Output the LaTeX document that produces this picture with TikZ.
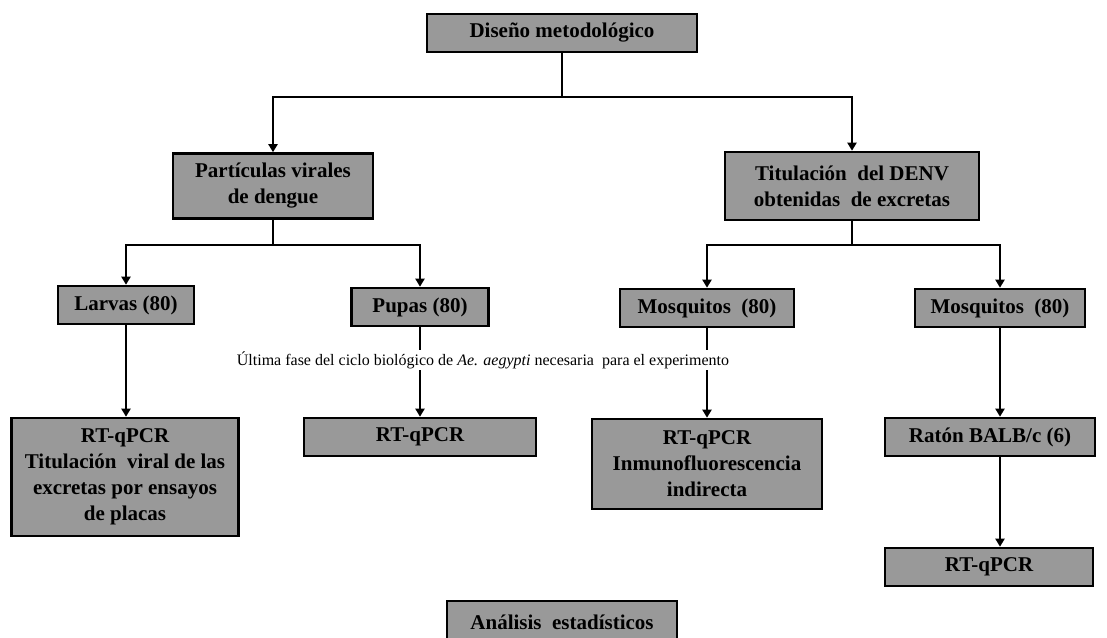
\documentclass[tikz,border=0pt]{standalone}
\usepackage{fontspec}
\setmainfont{Liberation Serif}
\usetikzlibrary{arrows.meta,positioning}
\definecolor{boxgray}{HTML}{999999}

\tikzset{
  stage/.style={draw=black,line width=2.6pt,fill=boxgray,align=center,inner sep=2pt,
    minimum height=38,font=\fontsize{21}{26}\selectfont\bfseries},
  link/.style={line width=2pt},
  arr/.style={line width=2pt,-{Triangle[length=8pt,width=9pt]}},
  note/.style={fill=white,inner sep=1pt,font=\fontsize{16}{19}\selectfont},
}

\begin{document}
\begin{tikzpicture}[x=1pt,y=-1pt]
  \useasboundingbox (0,0) rectangle (1107,637);
  % boxes
  \node[stage,minimum width=270] (dis) at (562,33) {Diseño metodológico};
  \node[stage,minimum width=200,minimum height=65] (par) at (273,186) {Partículas virales\\de dengue};
  \node[stage,minimum width=254,minimum height=68] (tit) at (852,186) {Titulación\ \ del DENV\\obtenidas\ \ de excretas};
  \node[stage,minimum width=136] (lar) at (126,305) {Larvas (80)};
  \node[stage,minimum width=137] (pup) at (420,307) {Pupas (80)};
  \node[stage,minimum width=174] (mos1) at (707,308) {Mosquitos\ \ (80)};
  \node[stage,minimum width=170] (mos2) at (1000,308) {Mosquitos\ \ (80)};
  \node[stage,minimum width=227,minimum height=118] (rt1) at (125,477) {RT-qPCR\\Titulación\ \ viral de las\\excretas por ensayos\\de placas};
  \node[stage,minimum width=232] (rt2) at (420,437) {RT-qPCR};
  \node[stage,minimum width=230,minimum height=90] (rt3) at (707,464) {RT-qPCR\\Inmunofluorescencia\\indirecta};
  \node[stage,minimum width=210] (rat) at (990,437) {Ratón BALB/c (6)};
  \node[stage,minimum width=208] (rt4) at (989,567) {RT-qPCR};
  \node[stage,minimum width=230,minimum height=42] (ana) at (562,622) {Análisis\ \ estadísticos};
  % connectors
  \coordinate (j0) at (562,97);
  \coordinate (j1) at (273,245);
  \coordinate (j2) at (852,245);
  \draw[link] (dis.south) -- (j0);
  \draw[arr] (j0) -| (par.north);
  \draw[arr] (j0) -| (tit.north);
  \draw[link] (par.south) -- (j1);
  \draw[arr] (j1) -| (lar.north);
  \draw[arr] (j1) -| (pup.north);
  \draw[link] (tit.south) -- (j2);
  \draw[arr] (j2) -| (mos1.north);
  \draw[arr] (j2) -| (mos2.north);
  \draw[arr] (lar.south) -- (lar.south |- rt1.north);
  \draw[arr] (pup.south) -- (rt2.north);
  \draw[arr] (mos1.south) -- (rt3.north);
  \draw[arr] (mos2.south) -- (mos2.south |- rat.north);
  \draw[arr] (mos2.south |- rat.south) -- (mos2.south |- rt4.north);
  % texto sobre las flechas
  \node[note] (fase) at (483,360) {Última fase del ciclo biológico de \textit{Ae. aegypti} necesaria\ \ para el experimento};
\end{tikzpicture}
\end{document}
